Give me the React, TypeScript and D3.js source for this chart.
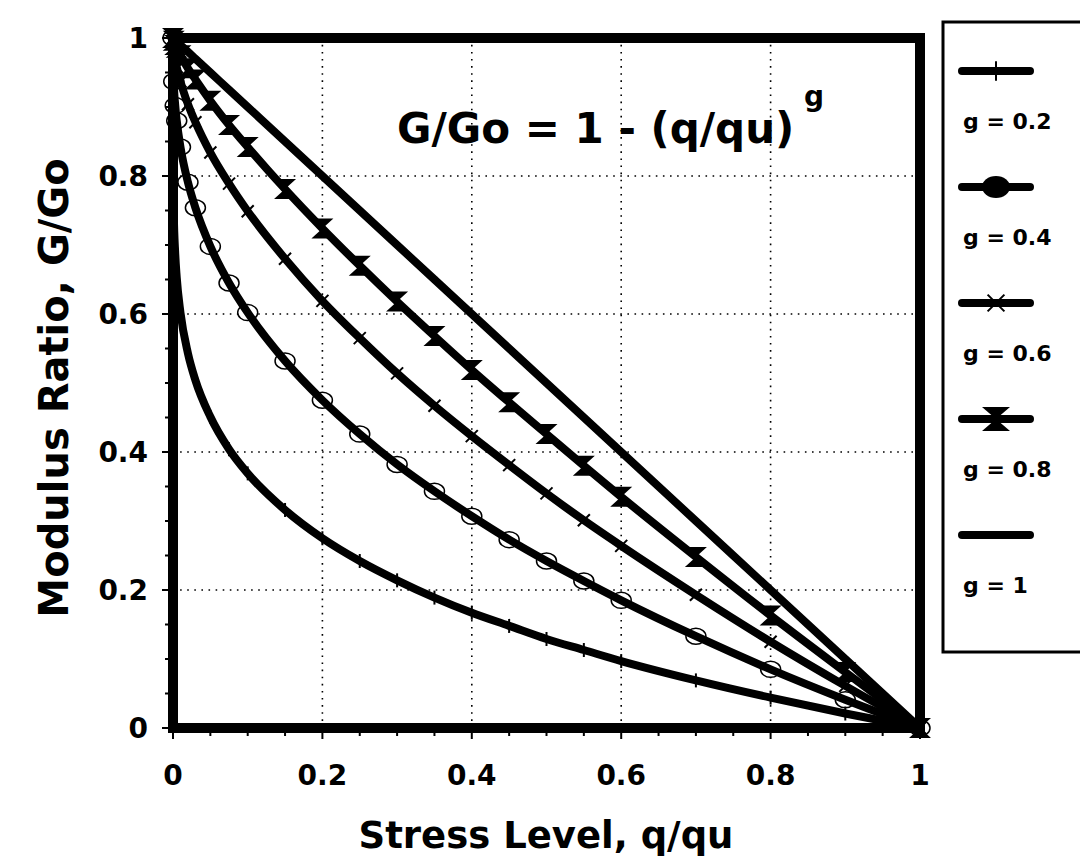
import React from "react";
import * as d3 from "d3";

// ---- data ----
const X_VALUES = [0, 0.001, 0.003, 0.005, 0.01, 0.02, 0.03, 0.05, 0.075, 0.1, 0.15, 0.2, 0.25, 0.3, 0.35, 0.4, 0.45, 0.5, 0.55, 0.6, 0.7, 0.8, 0.9, 1];
const G_02 = [1, 0.749, 0.687, 0.653, 0.602, 0.543, 0.504, 0.451, 0.404, 0.369, 0.316, 0.275, 0.242, 0.214, 0.189, 0.167, 0.148, 0.129, 0.113, 0.097, 0.069, 0.044, 0.021, 0];
const G_04 = [1, 0.937, 0.902, 0.88, 0.842, 0.791, 0.754, 0.698, 0.645, 0.602, 0.532, 0.475, 0.426, 0.382, 0.343, 0.307, 0.273, 0.242, 0.213, 0.185, 0.133, 0.085, 0.041, 0];
const G_06 = [1, 0.984, 0.969, 0.958, 0.937, 0.904, 0.878, 0.834, 0.789, 0.749, 0.68, 0.619, 0.565, 0.514, 0.467, 0.423, 0.381, 0.34, 0.301, 0.264, 0.193, 0.125, 0.061, 0];
const G_08 = [1, 0.996, 0.99, 0.986, 0.975, 0.956, 0.94, 0.909, 0.874, 0.842, 0.781, 0.724, 0.67, 0.618, 0.568, 0.519, 0.472, 0.426, 0.38, 0.335, 0.248, 0.163, 0.081, 0];
const G_10 = [1, 0.999, 0.997, 0.995, 0.99, 0.98, 0.97, 0.95, 0.925, 0.9, 0.85, 0.8, 0.75, 0.7, 0.65, 0.6, 0.55, 0.5, 0.45, 0.4, 0.3, 0.2, 0.1, 0];
const SERIES_LABELS = ["g = 0.2", "g = 0.4", "g = 0.6", "g = 0.8", "g = 1"];
const SERIES_MARKERS = ["plus", "circle", "cross", "hourglass", "none"];
const X_TICKS = [0, 0.2, 0.4, 0.6, 0.8, 1];
const X_TICK_LABELS = ["0", "0.2", "0.4", "0.6", "0.8", "1"];
const Y_TICKS = [0, 0.2, 0.4, 0.6, 0.8, 1];
const Y_TICK_LABELS = ["0", "0.2", "0.4", "0.6", "0.8", "1"];
const X_TITLE = "Stress Level, q/qu";
const Y_TITLE = "Modulus Ratio, G/Go";
const EQUATION = "G/Go = 1 - (q/qu)";
const EQUATION_EXP = "g";

const SERIES = [G_02, G_04, G_06, G_08, G_10];

const FONT = "'DejaVu Sans', Arial, sans-serif";

function Marker({ kind, x, y, legend }: { kind: string; x: number; y: number; legend?: boolean }) {
  const k = legend ? 1.4 : 1;
  if (kind === "plus") {
    return <line x1={x} x2={x} y1={y - 7 * k} y2={y + 7 * k} stroke="#000" strokeWidth={2} />;
  }
  if (kind === "cross") {
    const s = 6 * k;
    return (
      <g stroke="#000" strokeWidth={2}>
        <line x1={x - s} y1={y - s} x2={x + s} y2={y + s} />
        <line x1={x - s} y1={y + s} x2={x + s} y2={y - s} />
      </g>
    );
  }
  if (kind === "hourglass") {
    const w = legend ? 14 : 11;
    const h = legend ? 12 : 10;
    return (
      <path
        d={`M${x - w},${y - h}L${x + w},${y - h}L${x},${y}Z M${x - w},${y + h}L${x + w},${y + h}L${x},${y}Z`}
        fill="#000"
      />
    );
  }
  if (kind === "circle") {
    if (legend) return <ellipse cx={x} cy={y} rx={14} ry={11} fill="#000" />;
    return <ellipse cx={x} cy={y} rx={10} ry={8} fill="#fff" stroke="#000" strokeWidth={1.5} />;
  }
  return null;
}

export default function App() {
  const W = 1080;
  const H = 860;
  const x = d3.scaleLinear().domain([0, 1]).range([173, 920]);
  const y = d3.scaleLinear().domain([0, 1]).range([728, 38]);

  const line = d3
    .line<number>()
    .x((_, i) => x(X_VALUES[i]))
    .y((d) => y(d))
    .curve(d3.curveMonotoneX);

  const minorX = d3.range(0, 1.0001, 0.05);
  const minorY = d3.range(0, 1.0001, 0.05);

  const legendTop = 71;
  const legendStep = 116;

  return (
    <svg width={W} height={H} style={{ position: "absolute", left: 0, top: 0, background: "#fff" }} fontFamily={FONT}>
      <rect x={0} y={0} width={W} height={H} fill="#fff" />
      {/* grid */}
      <g stroke="#000" strokeWidth={1.6} strokeDasharray="1.6 5.5">
        {X_TICKS.slice(1, -1).map((t) => (
          <line key={"gx" + t} x1={x(t)} x2={x(t)} y1={y(0)} y2={y(1)} />
        ))}
        {Y_TICKS.slice(1, -1).map((t) => (
          <line key={"gy" + t} y1={y(t)} y2={y(t)} x1={x(0)} x2={x(1)} />
        ))}
      </g>

      {/* circle markers below the line */}
      {SERIES.map((s, si) =>
        SERIES_MARKERS[si] === "circle"
          ? s.map((v, i) => <Marker key={`c${si}-${i}`} kind="circle" x={x(X_VALUES[i])} y={y(v)} />)
          : null
      )}

      {/* series lines */}
      {SERIES.map((s, si) => (
        <path key={"l" + si} d={line(s) || ""} fill="none" stroke="#000" strokeWidth={8} strokeLinejoin="round" strokeLinecap="round" />
      ))}

      {/* other markers */}
      {SERIES.map((s, si) =>
        SERIES_MARKERS[si] !== "circle" && SERIES_MARKERS[si] !== "none"
          ? s.map((v, i) => <Marker key={`m${si}-${i}`} kind={SERIES_MARKERS[si]} x={x(X_VALUES[i])} y={y(v)} />)
          : null
      )}

      {/* minor ticks */}
      <g stroke="#000" strokeWidth={2}>
        {minorX.map((t, i) => (
          <line key={"tx" + i} x1={x(t)} x2={x(t)} y1={y(0)} y2={y(0) + (i % 4 === 0 ? 11 : 8)} />
        ))}
        {minorY.map((t, i) => (
          <line key={"ty" + i} y1={y(t)} y2={y(t)} x1={x(0)} x2={x(0) - (i % 4 === 0 ? 11 : 8)} />
        ))}
      </g>

      {/* frame */}
      <rect x={x(0)} y={y(1)} width={x(1) - x(0)} height={y(0) - y(1)} fill="none" stroke="#000" strokeWidth={10} />

      {/* tick labels */}
      <g fontSize={28} fontWeight="bold" fill="#000">
        {X_TICKS.map((t, i) => (
          <text key={"xl" + t} x={x(t)} y={785} textAnchor="middle">
            {X_TICK_LABELS[i]}
          </text>
        ))}
        {Y_TICKS.map((t, i) => (
          <text key={"yl" + t} x={148} y={y(t)} dy="0.36em" textAnchor="end">
            {Y_TICK_LABELS[i]}
          </text>
        ))}
      </g>

      {/* axis titles */}
      <text x={546} y={848} textAnchor="middle" fontSize={37} fontWeight="bold">
        {X_TITLE}
      </text>
      <text transform={`translate(68,388) rotate(-90)`} textAnchor="middle" fontSize={40} fontWeight="bold">
        {Y_TITLE}
      </text>

      {/* equation */}
      <text x={397} y={143} fontSize={42} fontWeight="bold">
        {EQUATION}
      </text>
      <text x={804} y={106} fontSize={28} fontWeight="bold">
        {EQUATION_EXP}
      </text>

      {/* legend */}
      <rect x={943} y={22} width={160} height={630} fill="#fff" stroke="#000" strokeWidth={3} />
      {SERIES_LABELS.map((lab, i) => {
        const ly = legendTop + i * legendStep;
        return (
          <g key={"lg" + i}>
            <line x1={962} x2={1030} y1={ly} y2={ly} stroke="#000" strokeWidth={8} strokeLinecap="round" />
            <Marker kind={SERIES_MARKERS[i]} x={996} y={ly} legend />
            <text x={963} y={ly + 58} fontSize={22} fontWeight="bold">
              {lab}
            </text>
          </g>
        );
      })}
    </svg>
  );
}
